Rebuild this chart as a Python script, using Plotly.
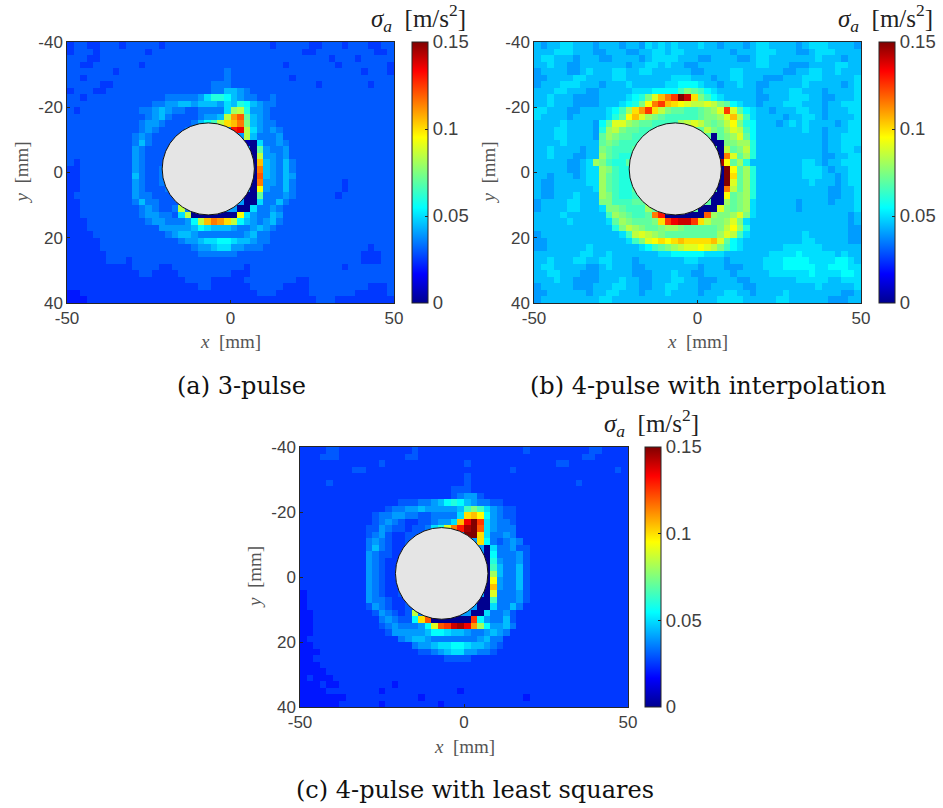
import plotly.graph_objects as go

W, H = 943, 808
# one character per 2 mm cell, base-36 digit times 0.005 m/s^2
panel_a = """
5665566656 6666566666 6666666666 6566666556 6656665566
5666566666 6656666666 6666666666 6666665566 6666666556
6665566666 6666666666 6666666666 6666666666 5666566666
6655666666 6566666666 6666666666 6665666666 6566666665
6666666566 6666666666 6666766666 6666666666 6666656665
6656666666 6666666666 6666766666 6666566666 6666666666
6666655666 6666666666 6677766666 6666666656 6666665666
5666556666 6666666666 6677998766 6666666666 6666666666
6656666666 6666677777 8accb98776 6766666666 6666666666
6666666666 6667788998 9998a9cb98 7766666666 6666666666
6566666666 6778987766 7777aghc88 7666666666 6666666666
6666666666 6678976666 7889hmoe98 7666666666 6666666666
6666666666 6788766667 9bdhklnf98 7766666666 6666666666
6666666666 6787666677 88888qrh a8 7876666666 6666666666
6666666666 7876666677 8888888h97 7786666666 6666666666
6666666666 7976666677 888888810a 7787666666 6666666666
6666666666 8766666677 888888880e 8778666666 6666666666
6666666666 8766667777 888888880h 8878666666 6666666666
6566666666 8766677777 888888880l 9879766666 6666666666
5566666666 8766777777 888888880n 9879766666 6666666666
5566666666 9766777777 888888880o 9879866666 6666666666
5566666666 8766777777 888888880n 8879766666 6656666666
5566666666 8766677777 888888880j 8779766666 6656666666
5666666666 8776666777 888888800e 7778766666 6566666666
5566666666 7977666677 888888800a 7797666666 6666666666
5566666666 6787667h77 88888800a7 7876666666 6666666666
5566666666 6788776ah0 000000ja87 7986666666 6666666666
5556666666 6678877 78b hlnmkhb987 8976666666 6666666666
5556666666 6666888889 ba99987 789 8766666666 6666666666
5555666666 6666678998 77777778 97 7666666666 6666666666
5555566666 6666666788 9aabba9987 7666666666 6666666666
5555566666 6666666667 889aa88777 6666666666 6666665666
5555556666 6666666666 7777776666 6666666666 6666655566
5555556665 6666666666 6666666666 6666666666 6666655566
5555555555 6666556666 6666666566 6666666666 6656666666
5555555555 5665555666 6666655566 6666666666 6666666666
5555555555 5555555566 6655555666 6666655666 6666666666
5555555555 5555555555 6655555566 6665555666 6666665556
4455555555 5555555555 5555555556 6655555666 6666555556
4445555555 5555555555 5555555555 5555555566 6555555555
"""

panel_b = """
9899aa9998 9998998a9a 9a999a9989 9989aa9999 89aaa99998
999aaa9998 89998899aa 9aa9999999 8999aaa999 889aaa9999
9aa9998999 88999989aa aa99988999 9889aa9999 999a999899
99a9988999 9999899aa9 a998899999 9999aa9998 889999aa99
89999889a9 99aa99aa99 9999889999 aa99999988 99aa99a999
889999aa99 99aa999999 9aaa999899 aa99988899 9aaa99999a
8999aaa999 8999a99999 aabbba9989 9a99889999 9a9999989a
999aa99988 99999aaabb bbdfedba99 999989999a a99989999a
99a9998888 9999abcfil npuskfdba9 999988999a aa9988999a
99a9998888 999abcfjnp lkjihhihfe ba998999aa a99989 9aa
aa99988999 9abdgkmpkh feeddefgip ieba998999 aa998999aa
a999989999 9acejligfe dddddeffgi lhda999989 9aa989999a
9999a99998 beiigfeedd ddghihfefh jfcb99989a 9a9999 89a
999aa99998 cghfeedddd eeeeeehfeg ihdb999999 9a998999aa
999aa99998 egfeedddee eeeeeee0ef gieb999999 9999899aaa
9999a99999 efedddeeee eeeeeee00f fggc999999 9999899aaa
99a9999899 fedddeeeee eeeeeeee0h efhc999999 9999899aa9
99a9998899 gedcceeeee eeeeeeee0n iegc999999 99998899aa
9999988 9a gfdcceeeee eeeeeeee0t jegc999999 99aa9899aa
99999889aa gfdcceeeee eeeeeeee0u jegc999999 9aaa9899aa
99899989aa gedcceeeee eeeeeeee0u kegc999999 9aaa9989aa
98899999aa gedcceeeee eeeeeeee0u iegc999999 99a99989aa
988999999a gedcceeeee eeeeeeee0n hegc999999 999998899a
988999a999 gfdccdeeee eeeeeee00j efgc999999 999998899a
89999aa999 ffdddeeeee eeeeeee00g efga999999 899998999a
89999aa999 affedddgee eeeee000if efga999999 899999999a
9999a99999 9dgfeddenq 000000ogff gifa999999 9999999989
99999a9999 9aegfeeefk prsspkhffg ifa9999999 9999999989
9999999999 99cfhgfeef ggfeeeeefh jgc9999999 9999999988
8999999999 999adhihgf eeeeeeeegi hda9999999 9a99999988
8899999999 9999adfijk jklkkkklie ba99999999 9aa9999988
88999999a9 999999abde fghiijihfd ba999999aa aaaa999999
9999999aa9 9a9999999a abbbbbaaa9 999999aaaa baaaaa9a99
99a999aa99 aa99989999 999aa99998 99999aaabb bbaaaabba9
9aa9999988 9a99988999 9999989998 88999aaabb bbbaabbbaa
99aa999888 9999988899 9a99889999 899999aaaa aabaaaabba
999a998888 999a998899 9aa9988899 9889999999 aaaaa99aaa
8999998889 99aa998899 aa99988999 9988999999 999a99999a
8899999989 9aa9998999 a99998999a a9989999a9 9999999889
8999999999 aa99999999 99999999aa aa99999aa9 9999988899
"""

panel_c = """
5555665555 5555555655 5555555555 5555655555 5555665555
5556665555 5555556655 5555555555 5555555555 5556655555
5555555555 5565555555 5555565555 5555555556 6555555555
5555555566 5555555555 5555555555 5565555555 5555555565
5555555555 5555555555 5555565555 5555555555 5555555555
5555655555 5555555555 5555565555 5555555555 5565555555
5555555555 5555555555 5556665555 5555555555 5555555555
5555555555 5555555555 5556788655 5555555555 5555555555
5555555555 5555566677 89bcb98776 6555555555 5555555555
5555555555 5556778898 88889dfda8 7665555555 5555555555
5555555555 5677887766 7777akljb8 7665555555 5555555555
5555555555 5678765566 788alrupa8 7765555555 5555555555
5555555555 6687665667 acinqtuoa8 7775555555 5555555555
5555555555 6786556667 88888uuka7 7875555555 5555555555
5555555555 7876556667 8888888kb7 6787555555 5555555555
5555555555 7976556667 888888880a 7786655555 5555555555
5555555555 8766556667 888888880b 7778655555 5555555555
5555555555 8765566777 888888880c 8778655555 5555555555
5555555555 8765566777 888888880d 9779655555 5555555555
5555555555 8765566777 888888880g 9779655555 5555555555
5555555555 8765566777 888888880j 8779655555 5555555555
5555555555 8765566777 888888880l 8779655555 5555555555
4555555555 8765566777 888888880i 7778655555 5555555555
4555555555 8776555777 888888800d 7778655555 5555555555
4555555555 6876556667 888888800a 7797555555 5555555555
4455555555 5687656h77 88888800a7 7865555555 5555555555
4455555555 5578766bko 000000pb87 7965555555 5555555555
4455555555 5567877 78b iopstrmgb8 8975555555 5555555555
4455555555 5556888889 bba9987789 8755555555 5555555555
4555555555 5555578998 7777777897 7555555555 5555555555
4455555555 5555555788 9aabba9987 6555555555 5555555555
4445555555 5555555566 789aa88776 5555555555 5555555555
4455555555 5555555555 5566665555 5555555555 5555555555
4445555555 5555555555 5555555555 5555555555 5555555555
4444555555 5555555555 5555555555 5555555555 5555555555
4544455555 5555555555 5555555555 5555555555 5555555555
4445445555 5555455555 5555555555 5555555555 5555555555
4444555555 5545555555 5555455555 5555555555 5555555555
4444444555 5555555545 5555555555 5555455555 5555555555
4444445555 5545555555 5455555555 5555555555 5555555555
"""

value_step = 0.005
x_ticks = [-50, 0, 50]
y_ticks = [-40, -20, 0, 20, 40]
cbar_ticks = [0, 0.05, 0.1, 0.15]
cbar_labels = ["0", "0.05", "0.1", "0.15"]
circle_x, circle_y, circle_r = -6.8, -1.1, 14.1
captions = ["(a) 3-pulse", "(b) 4-pulse with interpolation", "(c) 4-pulse with least squares"]

JET = [[0, "#00008f"], [0.111, "#0000ff"], [0.365, "#00ffff"], [0.5, "#7fff7f"],
       [0.635, "#ffff00"], [0.889, "#ff0000"], [1, "#800000"]]

SANS = "Liberation Sans"
SERIF = "Liberation Serif"
TICK = "#404040"

def grid(text):
    rows = []
    for line in text.strip().splitlines():
        s = line.replace(" ", "")
        s = (s + s[-1] * 50)[:50]
        rows.append([int(c, 36) * value_step for c in s])
    return rows

# px boxes: axes x0,x1,y0,y1, colorbar x
boxes = [(67, 394, 42, 303, 412), (534, 861, 42, 303, 879), (300, 628, 447, 707, 645)]
data = [panel_a, panel_b, panel_c]

fig = go.Figure()
layout = {}
shapes = []
annotations = []
for i, (box, text) in enumerate(zip(boxes, data), start=1):
    x0, x1, y0, y1, cb = box
    sx = "" if i == 1 else str(i)
    fig.add_trace(go.Heatmap(
        z=grid(text), x0=-49, dx=2, y0=-39, dy=2, xaxis="x" + sx, yaxis="y" + sx,
        zmin=0, zmax=0.15, colorscale=JET, hoverinfo="skip",
        colorbar=dict(x=cb / W, xanchor="left", xref="paper", y=1 - y1 / H, yanchor="bottom",
                      yref="paper", len=(y1 - y0) / H, lenmode="fraction", thickness=16,
                      thicknessmode="pixels", xpad=0, ypad=0, outlinewidth=1, outlinecolor="#262626",
                      tickvals=cbar_ticks, ticktext=cbar_labels, ticks="inside", ticklen=3,
                      tickcolor="#262626", tickfont=dict(family=SANS, size=18.5, color=TICK)),
    ))
    common = dict(showgrid=False, zeroline=False, showline=True, mirror=True, linecolor="#262626",
                  linewidth=0.5, ticks="inside", ticklen=3, tickcolor="#262626",
                  tickfont=dict(family=SANS, size=17, color=TICK))
    layout["xaxis" + sx] = dict(domain=[x0 / W, x1 / W], range=[-50, 50], tickvals=x_ticks,
                                anchor="y" + sx, ticktext=[str(v) for v in x_ticks], **common)
    layout["yaxis" + sx] = dict(domain=[1 - y1 / H, 1 - y0 / H], range=[40, -40], tickvals=y_ticks,
                                anchor="x" + sx, ticktext=[str(v) for v in y_ticks], **common)
    shapes.append(dict(type="circle", xref="x" + sx, yref="y" + sx, x0=circle_x - circle_r,
                       x1=circle_x + circle_r, y0=circle_y - circle_r, y1=circle_y + circle_r,
                       fillcolor="#e5e5e5", line=dict(color="#111111", width=1)))
    annotations.append(dict(text="<i>x</i>  [mm]", x=(x0 + x1) / 2 / W, y=1 - (y1 + 39) / H, xref="paper", yref="paper",
                            showarrow=False, xanchor="center", yanchor="middle",
                            font=dict(family=SERIF, size=19, color="#555555")))
    annotations.append(dict(text="<i>y</i>  [mm]", x=(x0 - 46) / W, y=1 - (y0 + y1) / 2 / H, xref="paper", yref="paper",
                            showarrow=False, textangle=-90, xanchor="center", yanchor="middle",
                            font=dict(family=SERIF, size=19, color="#555555")))
    annotations.append(dict(text="<i>σ<sub>a</sub></i>  [m/s<sup>2</sup>]", x=(cb + 56) / W, y=1 - (y0 - 24) / H,
                            xref="paper", yref="paper", showarrow=False, xanchor="right", yanchor="middle",
                            font=dict(family=SERIF, size=25, color="#222222")))

caption_pos = [(242, 386), (708, 386), (475, 790)]
for cap, (cx, cy) in zip(captions, caption_pos):
    annotations.append(dict(text=cap, x=cx / W, y=1 - cy / H, xref="paper", yref="paper", showarrow=False,
                            xanchor="center", yanchor="middle",
                            font=dict(family="DejaVu Serif", size=24, color="#111111")))

fig.update_layout(width=W, height=H, margin=dict(l=0, r=0, t=0, b=0, autoexpand=False), paper_bgcolor="white",
                  plot_bgcolor="white", shapes=shapes, annotations=annotations, **layout)
fig.write_html("out.html", post_script="document.body.style.margin='0';", config={"displayModeBar": False})
